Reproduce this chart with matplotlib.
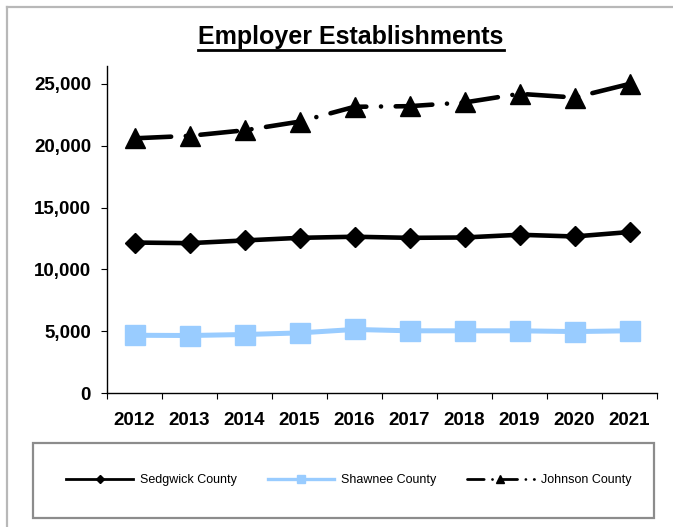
import matplotlib
matplotlib.use("Agg")
import matplotlib.pyplot as plt
from matplotlib.lines import Line2D
from matplotlib.patches import Rectangle

years = ["2012", "2013", "2014", "2015", "2016", "2017", "2018", "2019", "2020", "2021"]
sedgwick = [12170, 12120, 12340, 12550, 12640, 12550, 12580, 12800, 12660, 13020]
shawnee = [4670, 4650, 4730, 4860, 5140, 5030, 5030, 5030, 4970, 5030]
johnson = [20600, 20800, 21250, 21950, 23150, 23200, 23500, 24200, 23900, 25000]
series_names = ["Sedgwick County", "Shawnee County", "Johnson County"]
yticks = [0, 5000, 10000, 15000, 20000, 25000]

plt.rcParams['font.family'] = ['Liberation Sans', 'DejaVu Sans']

W, H = 673, 527
fig = plt.figure(figsize=(W / 100, H / 100), dpi=100)

def fx(px):
    return px / W

def fy(py):
    return 1 - py / H

# outer chart border (top and left visible)
fig.add_artist(Line2D([fx(7), 1], [fy(7), fy(7)], color="#b8b8b8", lw=1.6,
                      transform=fig.transFigure))
fig.add_artist(Line2D([fx(7), fx(7)], [fy(7), 0], color="#b8b8b8", lw=1.6,
                      transform=fig.transFigure))

ax = fig.add_axes([fx(107), fy(393), fx(657) - fx(107), fy(66) - fy(393)])
x = list(range(len(years)))

dash = (0, (8, 3.2, 0.01, 3.2))
ax.plot(x, shawnee, color="#99CCFF", lw=3.6, marker="s", ms=15, mec="#99CCFF",
        solid_joinstyle="miter")
ax.plot(x, sedgwick, color="black", lw=3.3, marker="D", ms=10.5,
        solid_joinstyle="miter")
ax.plot(x, johnson, color="black", lw=3.3, marker="^", ms=15, linestyle=dash,
        dash_capstyle="round")

ax.set_xlim(-0.5, len(years) - 0.5)
ax.set_ylim(0, 26450)
ax.set_yticks(yticks)
ax.set_yticklabels([f"{v:,}" for v in yticks], fontsize=13.5, fontweight="bold")
ax.set_xticks(x)
ax.set_xticklabels(years, fontsize=13.5, fontweight="bold")
ax.set_xticks([i - 0.5 for i in range(len(years) + 1)], minor=True)
ax.tick_params(axis="x", which="major", length=0, pad=13.5)
ax.tick_params(axis="x", which="minor", length=4.5, width=0.8, direction="out")
ax.tick_params(axis="y", which="major", length=4.5, width=0.8, direction="out", pad=7)
for s in ["top", "right"]:
    ax.spines[s].set_visible(False)
for s in ["left", "bottom"]:
    ax.spines[s].set_linewidth(1.0)

# title with underline
t = fig.text(fx(351), fy(37), "Employer Establishments", ha="center", va="center",
             fontsize=18, fontweight="bold")
fig.canvas.draw()
bb = t.get_window_extent()
fig.add_artist(Line2D([bb.x0 / W, bb.x1 / W], [fy(49.5), fy(49.5)], color="black",
                      lw=2.0, transform=fig.transFigure))

# legend box
fig.add_artist(Rectangle((fx(33), fy(518)), fx(654) - fx(33), fy(443) - fy(518),
                         fill=False, edgecolor="#8c8c8c", lw=1.6,
                         transform=fig.transFigure))

handles = [
    Line2D([], [], color="black", lw=2.0, marker="D", ms=4),
    Line2D([], [], color="#99CCFF", lw=2.4, marker="s", ms=6, mec="#99CCFF"),
    Line2D([], [], color="black", lw=2.0, marker="^", ms=6, linestyle=(0, (6, 3, 0.01, 3)),
           dash_capstyle="round"),
]
fig.legend(handles, series_names, loc="center", bbox_to_anchor=(fx(349), fy(480)),
           ncol=3, frameon=False, fontsize=9, handlelength=5.3, handletextpad=0.6,
           columnspacing=2.45)

fig.savefig("out.png", dpi=100)
